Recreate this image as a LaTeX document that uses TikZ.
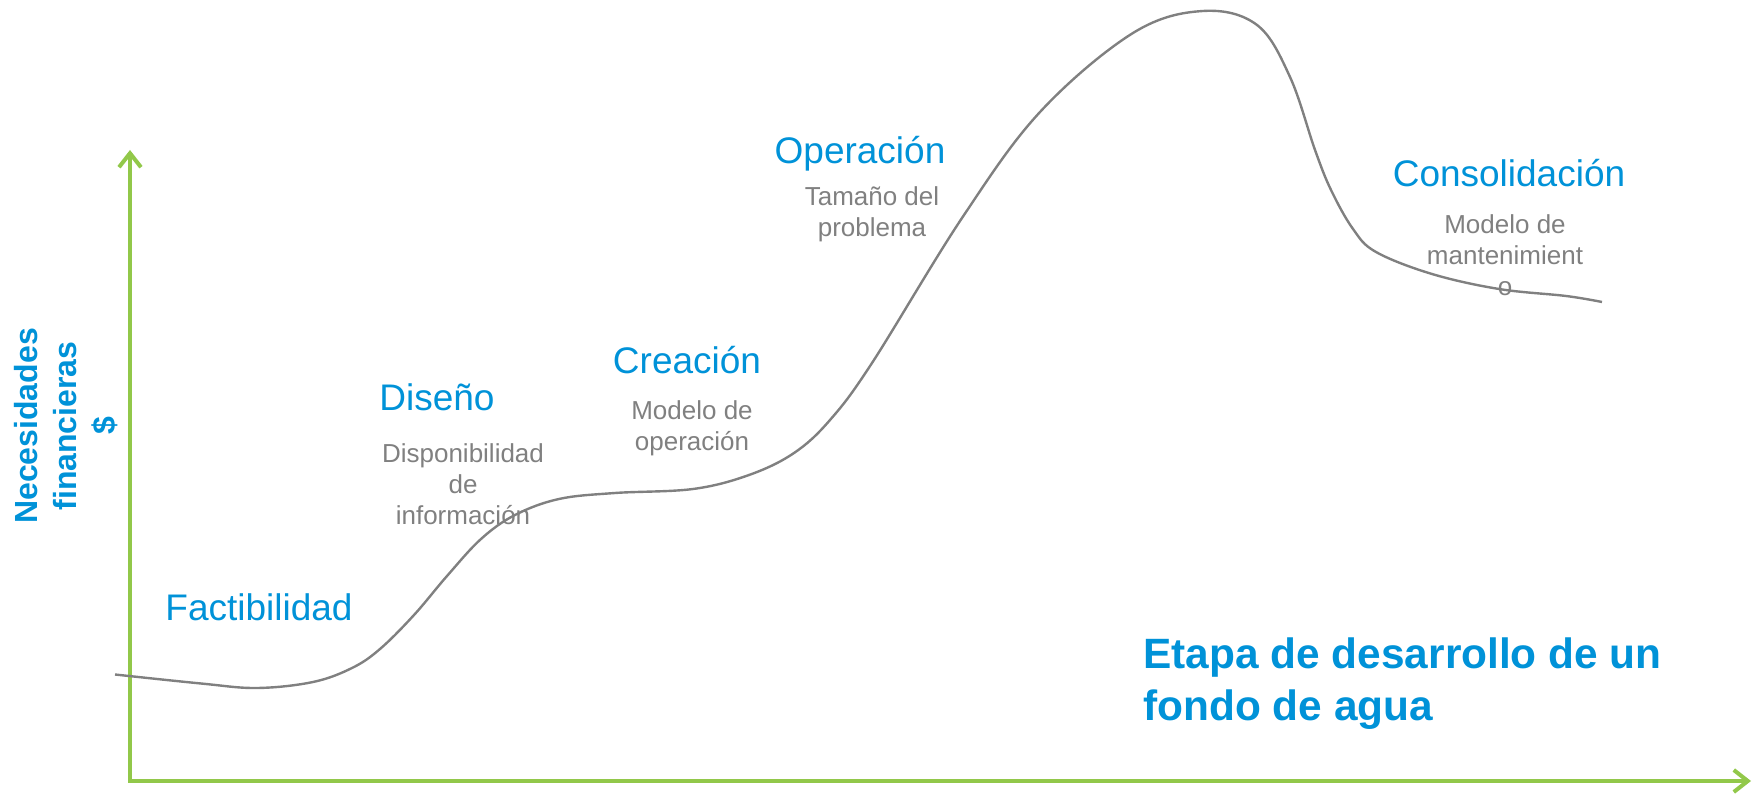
\documentclass[tikz,border=0pt]{standalone}
\usepackage{fontspec}
\setmainfont{Liberation Sans}
\usetikzlibrary{arrows.meta}
\definecolor{axisgreen}{RGB}{146,200,74}
\definecolor{stageblue}{RGB}{0,146,216}
\definecolor{curvegray}{RGB}{128,128,128}
\definecolor{notegray}{RGB}{128,128,128}
\begin{document}
\begin{tikzpicture}[x=0.5pt,y=-0.5pt,
  axisline/.style={draw=axisgreen, line width=2pt, line join=miter,
    {Straight Barb[length=7pt,width=11pt]}-{Straight Barb[length=7pt,width=11pt]}},
  curveline/.style={draw=curvegray, line width=1.2pt},
  stagelabel/.style={text=stageblue, font=\fontsize{18.5}{22}\selectfont, inner sep=0pt},
  notelabel/.style={text=notegray, font=\fontsize{13}{15.6}\selectfont, align=center, inner sep=0pt},
  titlelabel/.style={text=stageblue, font=\bfseries\fontsize{21.2}{26}\selectfont, align=left, inner sep=0pt},
  ylabel/.style={text=stageblue, font=\bfseries\fontsize{16}{19.3}\selectfont, align=center, inner sep=0pt, rotate=90}
]
\useasboundingbox (0,0) rectangle (1754,795);

% axes
\coordinate (origin) at (130,781);
\coordinate (ytop) at (130,150);
\coordinate (xend) at (1751,781);
\draw[axisline] (ytop) -- (origin) -- (xend);

% curve
\draw[curveline] plot[smooth, tension=0.6] coordinates {
  (115,674.5) (201,683.5) (257,688) (313,682) (352,668) (380,649)
  (414,615) (447,576) (481,539) (515,515) (559,499) (615,493)
  (693,489) (749,475) (794,453) (830,420) (872,363) (962,218)
  (1040,112) (1133,33) (1203,11) (1257,25)
  (1290,77) (1315,150) (1331,190) (1353,229) (1376,252)
  (1432,274) (1499,289) (1566,296) (1602,302)};

% stage labels
\node[stagelabel] (fact) at (259,607) {Factibilidad};
\node[stagelabel] (dis) at (437,397) {Diseño};
\node[notelabel] (disn) at (463,484) {Disponibilidad\\de\\información};
\node[stagelabel] (crea) at (687,360) {Creación};
\node[notelabel] (crean) at (692,428) {Modelo de\\operación};
\node[stagelabel] (oper) at (860,154) {Operación};
\node[notelabel] (opern) at (872,214) {Tamaño del\\problema};
\node[stagelabel] (cons) at (1509,173) {Consolidación};
\node[notelabel] (consn) at (1505,255) {Modelo de\\mantenimient\\o};

% title
\node[titlelabel, anchor=west] (title) at (1143,684) {Etapa de desarrollo de un\\fondo de agua};

% y label
\node[ylabel] (ylab) at (66,426) {Necesidades\\financieras\\\$};
\end{tikzpicture}
\end{document}
